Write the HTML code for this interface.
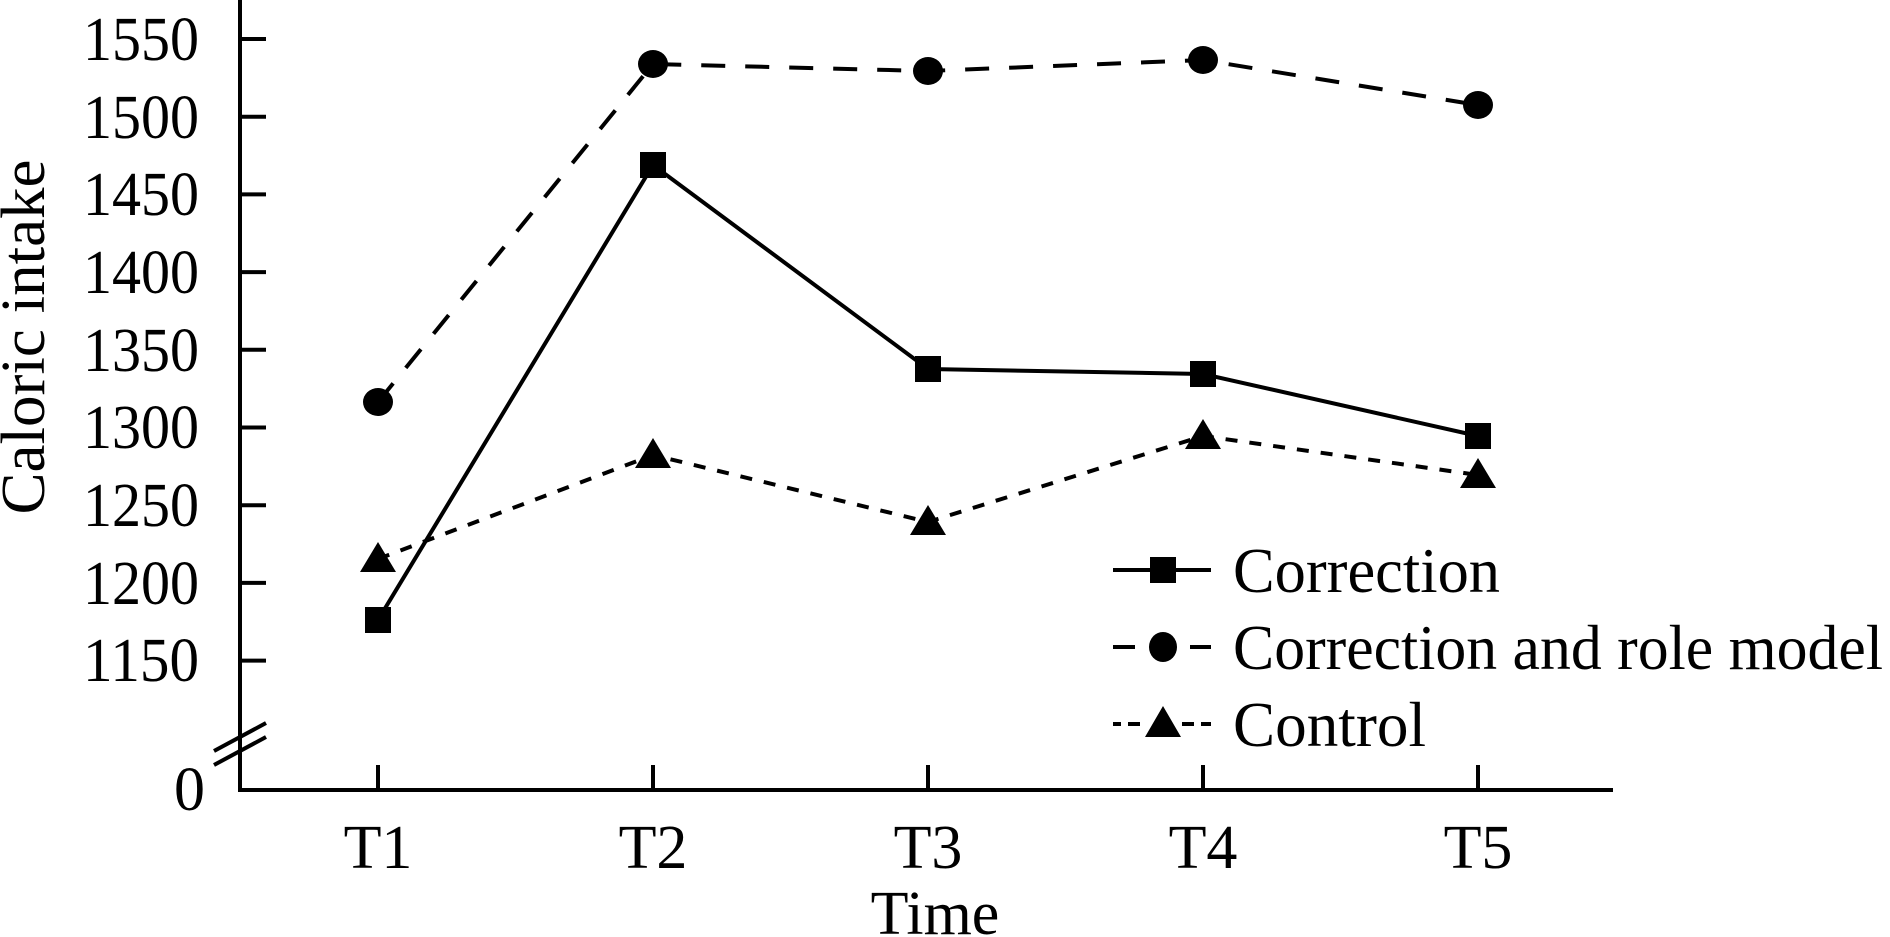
<!DOCTYPE html>
<html><head><meta charset="utf-8"><style>html,body{margin:0;padding:0;background:#fff}svg{display:block}</style></head>
<body>
<svg width="1890" height="937" viewBox="0 0 1890 937" xmlns="http://www.w3.org/2000/svg" font-family="Liberation Serif, serif" fill="#000">
<g stroke="#000" stroke-width="4" fill="none">
<line x1="240" y1="0" x2="240" y2="792"/>
<line x1="238" y1="790" x2="1613" y2="790"/>
<line x1="240" y1="39" x2="266" y2="39"/>
<line x1="240" y1="116.7" x2="266" y2="116.7"/>
<line x1="240" y1="194.4" x2="266" y2="194.4"/>
<line x1="240" y1="272.1" x2="266" y2="272.1"/>
<line x1="240" y1="349.8" x2="266" y2="349.8"/>
<line x1="240" y1="427.5" x2="266" y2="427.5"/>
<line x1="240" y1="505.2" x2="266" y2="505.2"/>
<line x1="240" y1="582.9" x2="266" y2="582.9"/>
<line x1="240" y1="660.6" x2="266" y2="660.6"/>
<line x1="378" y1="765" x2="378" y2="790"/>
<line x1="653" y1="765" x2="653" y2="790"/>
<line x1="928" y1="765" x2="928" y2="790"/>
<line x1="1203" y1="765" x2="1203" y2="790"/>
<line x1="1478" y1="765" x2="1478" y2="790"/>
<line x1="214" y1="751" x2="266" y2="723"/>
<line x1="214" y1="765" x2="266" y2="737"/>
</g>
<g font-size="62" text-anchor="end">
<text x="199" y="60" textLength="116" lengthAdjust="spacingAndGlyphs">1550</text>
<text x="199" y="138" textLength="116" lengthAdjust="spacingAndGlyphs">1500</text>
<text x="199" y="215" textLength="116" lengthAdjust="spacingAndGlyphs">1450</text>
<text x="199" y="293" textLength="116" lengthAdjust="spacingAndGlyphs">1400</text>
<text x="199" y="371" textLength="116" lengthAdjust="spacingAndGlyphs">1350</text>
<text x="199" y="448" textLength="116" lengthAdjust="spacingAndGlyphs">1300</text>
<text x="199" y="526" textLength="116" lengthAdjust="spacingAndGlyphs">1250</text>
<text x="199" y="604" textLength="116" lengthAdjust="spacingAndGlyphs">1200</text>
<text x="199" y="681" textLength="116" lengthAdjust="spacingAndGlyphs">1150</text>
<text x="205" y="810">0</text>
</g>
<g font-size="62" text-anchor="middle">
<text x="378" y="868">T1</text>
<text x="653" y="868">T2</text>
<text x="928" y="868">T3</text>
<text x="1203" y="868">T4</text>
<text x="1478" y="868">T5</text>
<text x="935" y="934">Time</text>
<text transform="translate(44,337) rotate(-90)" textLength="355" lengthAdjust="spacingAndGlyphs">Caloric intake</text>
</g>
<g fill="none" stroke="#000" stroke-width="4">
<polyline points="378,620 653,165 928,369 1203,374 1478,436"/>
<polyline stroke-dasharray="24,20" points="378,402 653,64 928,71 1203,60 1478,105"/>
<polyline stroke-dasharray="12,12" points="378,559 653,455 928,522 1203,436 1478,475"/>
</g>
<g>
<rect x="365" y="607" width="26" height="26"/><rect x="640" y="152" width="26" height="26"/><rect x="915" y="356" width="26" height="26"/><rect x="1190" y="361" width="26" height="26"/><rect x="1465" y="423" width="26" height="26"/>
<ellipse cx="378" cy="402" rx="15" ry="14"/><ellipse cx="653" cy="64" rx="15" ry="14"/><ellipse cx="928" cy="71" rx="15" ry="14"/><ellipse cx="1203" cy="60" rx="15" ry="14"/><ellipse cx="1478" cy="105" rx="15" ry="14"/>
<polygon points="378,542 396,572 360,572"/><polygon points="653,438 671,468 635,468"/><polygon points="928,505 946,535 910,535"/><polygon points="1203,419 1221,449 1185,449"/><polygon points="1478,458 1496,488 1460,488"/>
</g>
<g stroke="#000" stroke-width="4">
<line x1="1113" y1="570" x2="1211" y2="570"/>
<line x1="1113" y1="647" x2="1135" y2="647"/><line x1="1190" y1="647" x2="1211" y2="647"/>
<line x1="1113" y1="724" x2="1121" y2="724"/><line x1="1128" y1="724" x2="1140" y2="724"/><line x1="1182" y1="724" x2="1194" y2="724"/><line x1="1201" y1="724" x2="1211" y2="724"/>
</g>
<rect x="1150" y="557" width="26" height="26"/>
<ellipse cx="1163" cy="647" rx="14" ry="15"/>
<polygon points="1163,706 1181,737 1145,737"/>
<g font-size="64">
<text x="1233" y="592" textLength="267" lengthAdjust="spacingAndGlyphs">Correction</text>
<text x="1233" y="669" textLength="650" lengthAdjust="spacingAndGlyphs">Correction and role model</text>
<text x="1233" y="746" textLength="193" lengthAdjust="spacingAndGlyphs">Control</text>
</g>
</svg>
</body></html>
